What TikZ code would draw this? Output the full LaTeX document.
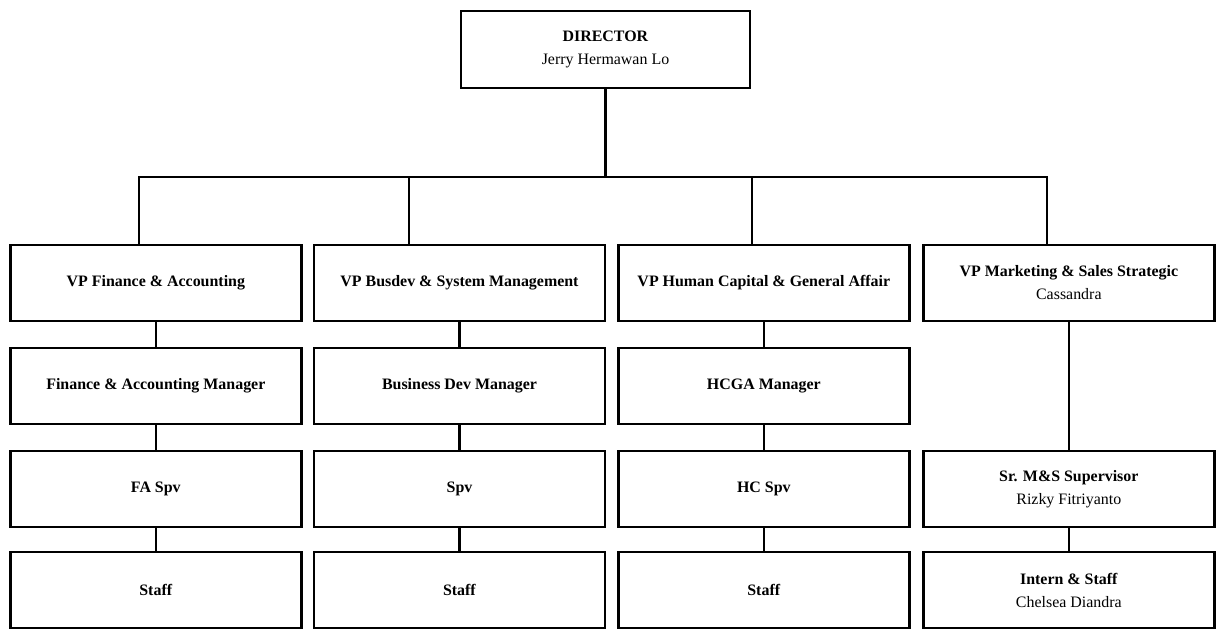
\documentclass[tikz,border=0pt]{standalone}
\usepackage{fontspec}
\setmainfont{Liberation Serif}
\usetikzlibrary{positioning}
\tikzstyle{post} = [rectangle, minimum width=8.73cm, minimum height=2.28cm, text centered, align=center, draw=black, line width=2.4pt, font=\fontsize{13.6}{19.6}\selectfont]
\tikzstyle{link} = [line width=1.8pt, draw=black]

\begin{document}
\begin{tikzpicture}[node distance=3.09cm]
        \useasboundingbox (0,0) rectangle (36.51,-18.87);
        \node (node0) [post, minimum width=8.67cm, minimum height=2.31cm] at (18.165,-1.485) {\textbf{DIRECTOR}\\Jerry Hermawan Lo};

        \node (node1) [post, below of=node0, xshift=-13.49cm, yshift=-3.915cm] {\textbf{VP Finance \& Accounting}};
        \node (node2) [post, right of=node1, xshift=6.02cm] {\textbf{VP Busdev \& System Management}};
        \node (node3) [post, right of=node2, xshift=6.04cm] {\textbf{VP Human Capital \& General Affair}};
        \node (node4) [post, right of=node3, xshift=6.06cm] {\textbf{VP Marketing \& Sales Strategic}\\Cassandra};

        \node (node5) [post, below of=node1] {\textbf{Finance \& Accounting Manager}};
        \node (node6) [post, below of=node2] {\textbf{Business Dev Manager}};
        \node (node7) [post, below of=node3] {\textbf{HCGA Manager}};

        \node (node8) [post, below of=node5] {\textbf{FA Spv}};
        \node (node9) [post, below of=node6] {\textbf{Spv}};
        \node (node10) [post, below of=node7] {\textbf{HC Spv}};
        \node (node11) [post, below of=node4, yshift=-3.09cm] {\textbf{Sr. M\&S Supervisor}\\Rizky Fitriyanto};

        \node (node12) [post, below of=node8, yshift=0.06cm] {\textbf{Staff}};
        \node (node13) [post, below of=node9, yshift=0.06cm] {\textbf{Staff}};
        \node (node14) [post, below of=node10, yshift=0.06cm] {\textbf{Staff}};
        \node (node15) [post, below of=node11, yshift=0.06cm] {\textbf{Intern \& Staff}\\Chelsea Diandra};

        \draw [link] (node0.south) -- ++(0,-2.64) coordinate (bus);
        \draw [link] ([xshift=-0.51cm]node1.north) |- (bus) -| ([xshift=-0.66cm]node4.north);
        \draw [link] ([xshift=-1.515cm]node2.north) -- ([xshift=-1.515cm]node2.north |- bus);
        \draw [link] ([xshift=-0.36cm]node3.north) -- ([xshift=-0.36cm]node3.north |- bus);
        \draw [link] (node1) -- (node5);
        \draw [link] (node5) -- (node8);
        \draw [link] (node8) -- (node12);
        \draw [link] (node2) -- (node6);
        \draw [link] (node6) -- (node9);
        \draw [link] (node9) -- (node13);
        \draw [link] (node3) -- (node7);
        \draw [link] (node7) -- (node10);
        \draw [link] (node10) -- (node14);
        \draw [link] (node4) -- (node11);
        \draw [link] (node11) -- (node15);
    \end{tikzpicture}
\end{document}
